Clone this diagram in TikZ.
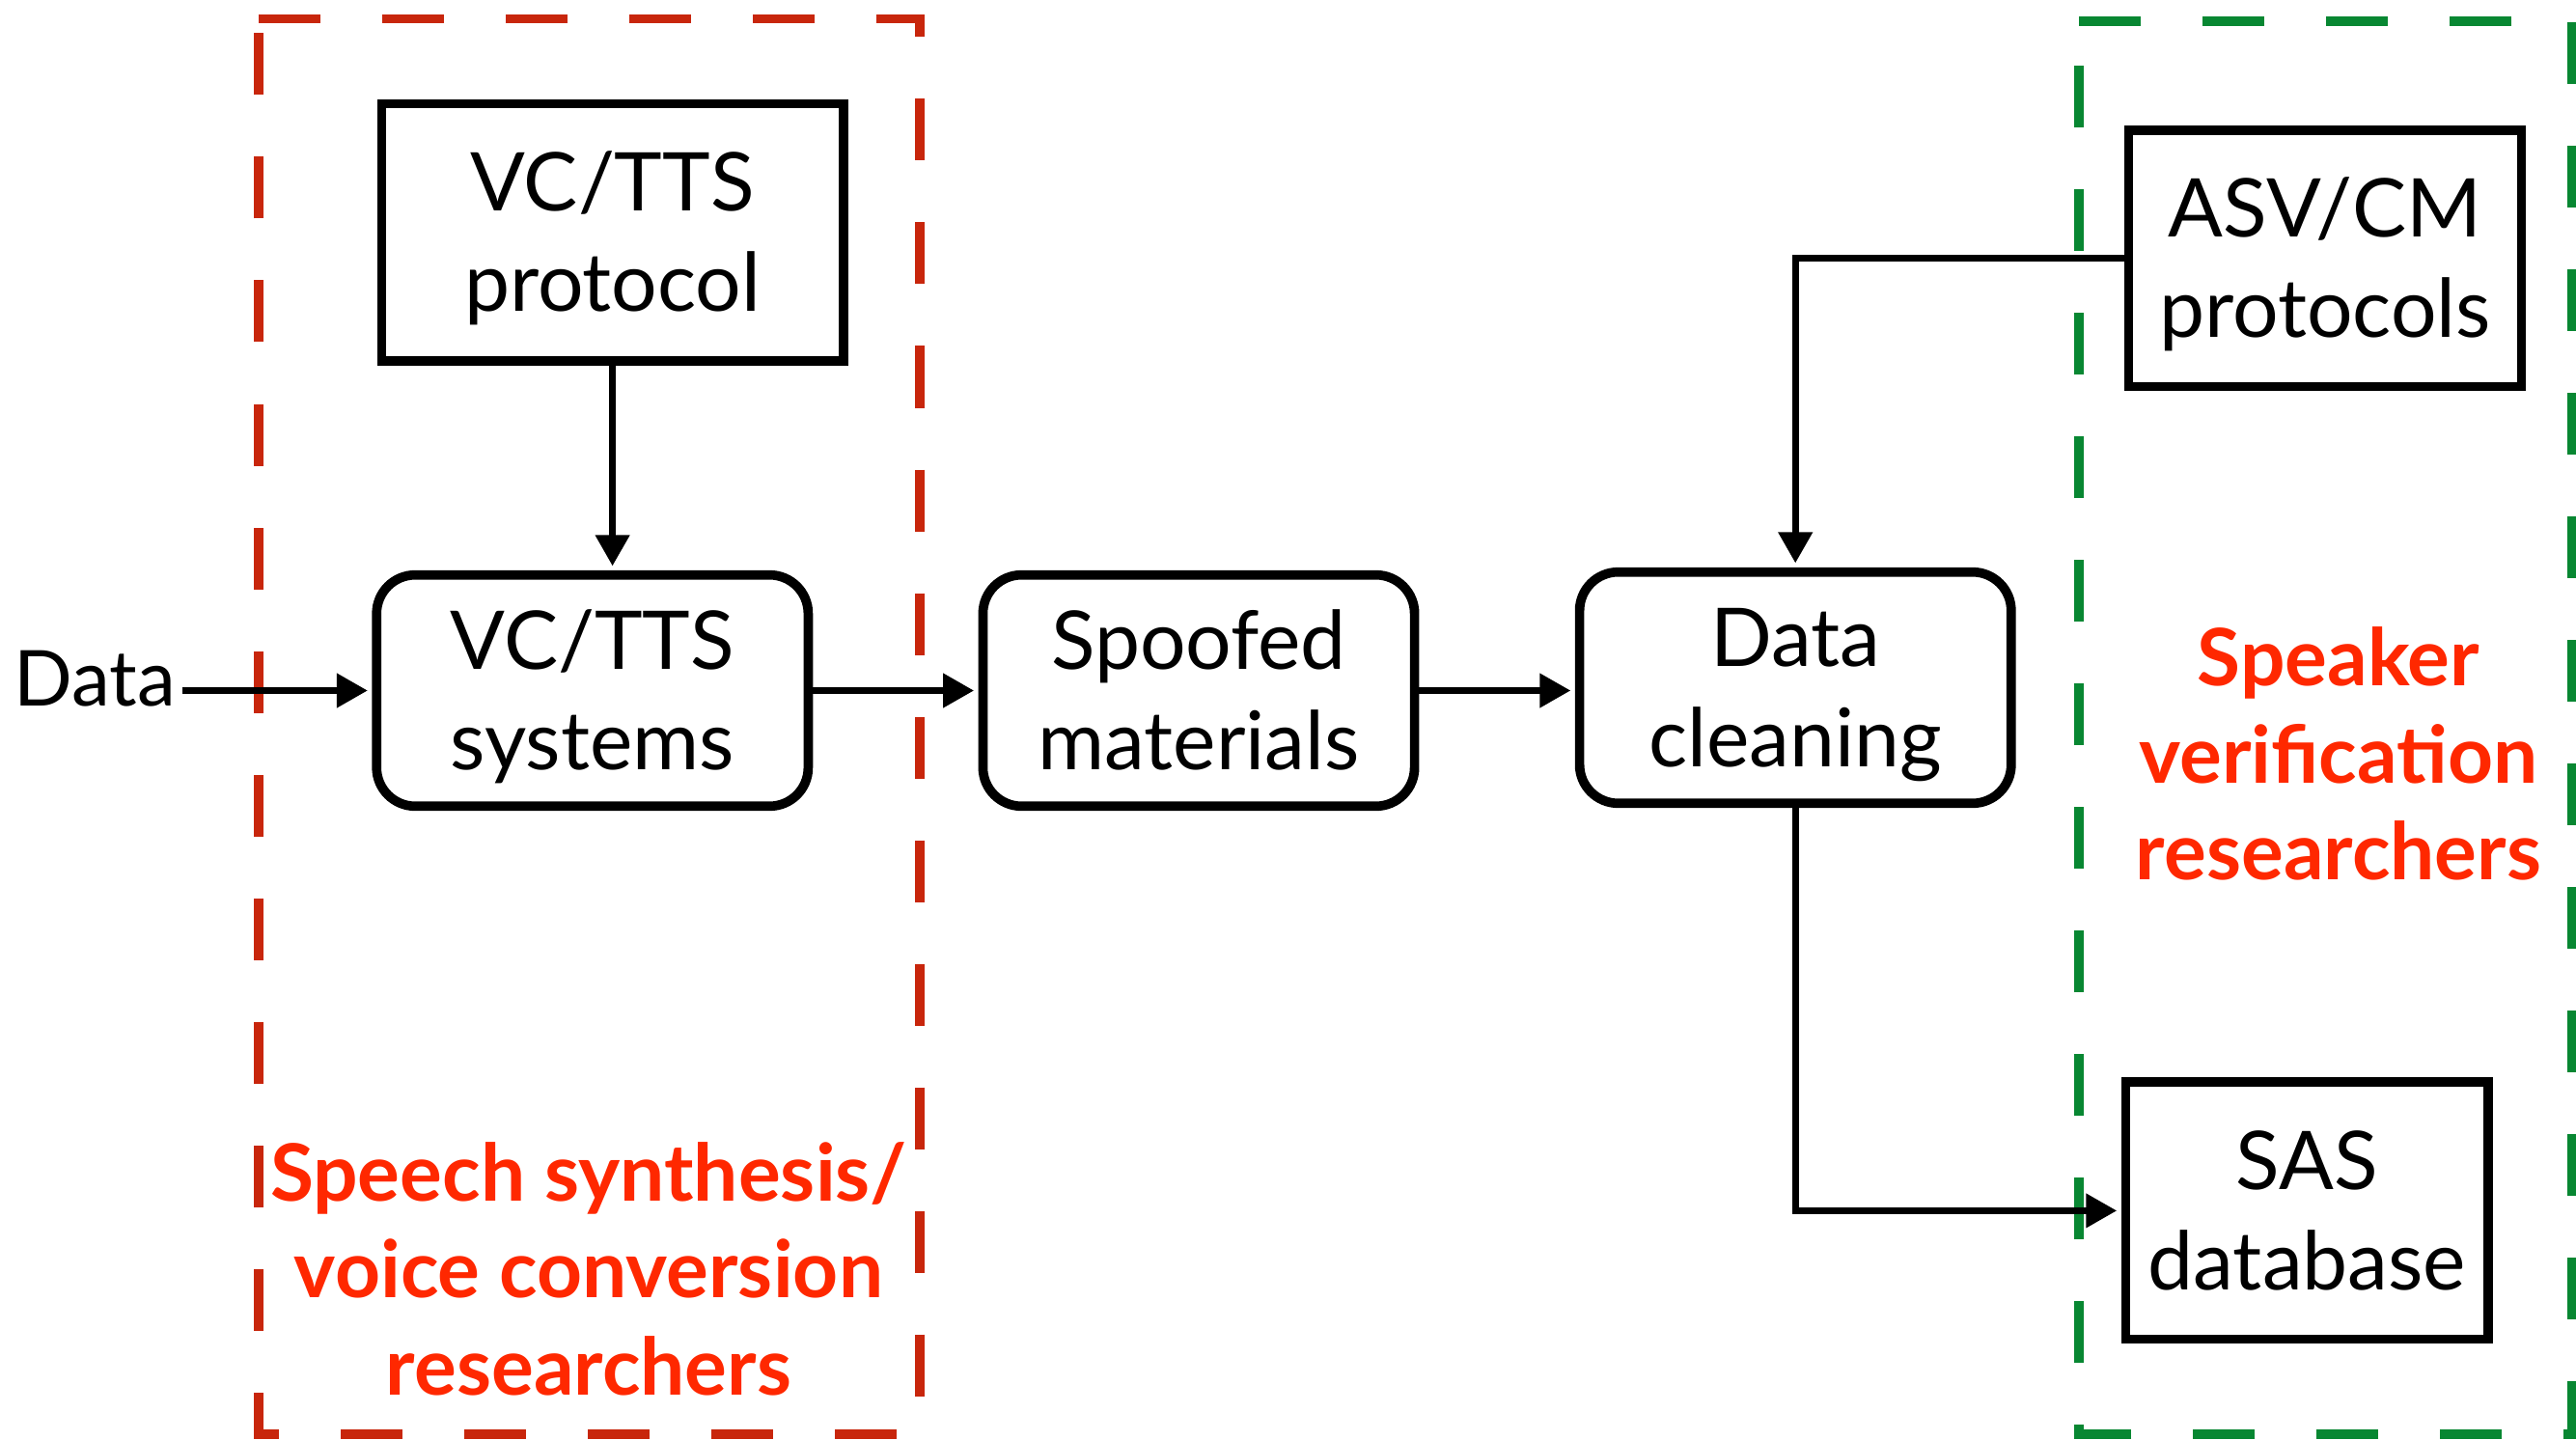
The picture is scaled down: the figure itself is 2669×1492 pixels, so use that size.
\documentclass[tikz,border=0pt]{standalone}
\usepackage{fontspec}
\setmainfont{Lato}
\usetikzlibrary{arrows.meta}
\definecolor{frameRed}{RGB}{200,38,12}
\definecolor{labelRed}{RGB}{255,40,0}
\definecolor{frameGreen}{RGB}{8,135,50}
\newcommand{\topstrut}{\rule{0pt}{0.9665em}}
\newcommand{\botstrut}{\rule[-0.25em]{0pt}{0.25em}}
\tikzset{
  boxtext/.style={font=\fontsize{42}{52}\selectfont, align=center, inner sep=0pt},
  sqbox/.style={boxtext, draw, line width=4.85pt},
  rbox/.style={sqbox, rounded corners=20pt, minimum width=223.6pt, minimum height=119.8pt},
  conn/.style={line width=3.6pt, -{Triangle[length=16pt,width=17pt]}, shorten >=2.2pt},
  frame/.style={line width=4.6pt, dash pattern=on 32pt off 32pt},
  grouplabel/.style={font=\bfseries\fontsize{41}{50.35}\selectfont, align=center, inner sep=0pt, text=labelRed},
}
\begin{document}
\begin{tikzpicture}[x=0.5pt,y=-0.5pt]
\fill[white] (0,0) rectangle (2669,1492);
\useasboundingbox (0,0) rectangle (2669,1492);

% group frames
\draw[frame, frameRed] (268,19.5) -- (953,19.5) -- (953,1486) -- (268,1486) -- cycle;
\draw[frame, frameGreen] (2154,22) -- (2665,22) -- (2665,1486) -- (2154,1486) -- cycle;

% boxes
\node[sqbox, minimum width=239.1pt, minimum height=133.2pt] (proto) at (634.6,240.8) {\topstrut VC/TTS\\protocol\botstrut};
\node[rbox] (sys) at (613.8,715.5) {\topstrut VC/TTS\\systems\botstrut};
\node[rbox] (spoof) at (1242,715.5) {\topstrut Spoofed\\materials\botstrut};
\node[rbox] (clean) at (1860.2,712.5) {\topstrut Data\\cleaning\botstrut};
\node[sqbox, minimum width=203.6pt, minimum height=132.8pt] (asv) at (2409,267.6) {\topstrut ASV/CM\\protocols\botstrut};
\node[sqbox, minimum width=187.9pt, minimum height=133.1pt] (sas) at (2390.4,1254.4) {\topstrut SAS\\database\botstrut};

\node[font=\fontsize{40}{48}\selectfont, inner sep=3pt, anchor=base] (data) at (98.5,731) {Data};

% group labels
\node[grouplabel] (synthlabel) at (610,1315.5) {\topstrut Speech synthesis/\\voice conversion\\researchers\botstrut};
\node[grouplabel] (asvlabel) at (2423,781.9) {\topstrut Speaker\\verification\\researchers\botstrut};

% connectors
\draw[conn] (data.east |- sys.west) -- (sys.west);
\draw[conn] (proto.south) -- (proto.south |- sys.north);
\draw[conn] (sys.east) -- (spoof.west);
\draw[conn] (spoof.east) -- (spoof.east -| clean.west);
\draw[conn] (asv.west) -| (clean.north);
\draw[conn] (clean.south) |- (sas.west);
\end{tikzpicture}
\end{document}
